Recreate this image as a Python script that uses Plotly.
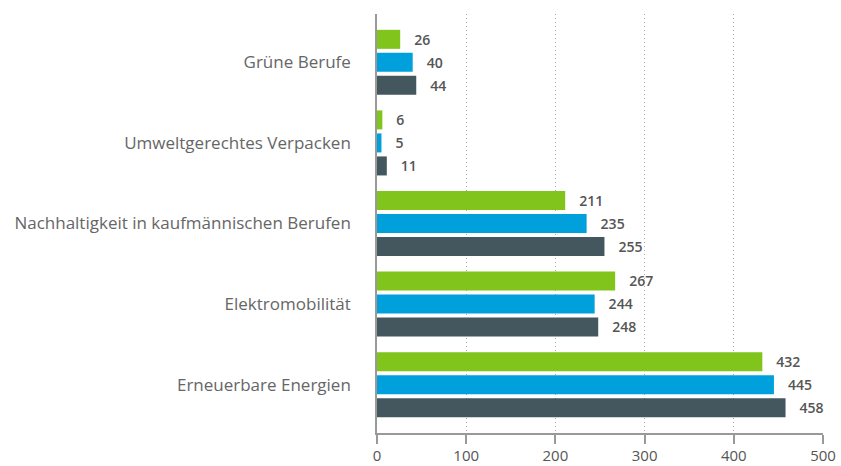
import plotly.graph_objects as go

categories = ["Grüne Berufe", "Umweltgerechtes Verpacken",
              "Nachhaltigkeit in kaufmännischen Berufen", "Elektromobilität",
              "Erneuerbare Energien"]
series_names = ["Reihe 1", "Reihe 2", "Reihe 3"]
series_1 = [26, 6, 211, 267, 432]
series_2 = [40, 5, 235, 244, 445]
series_3 = [44, 11, 255, 248, 458]
colors = ["#80c41c", "#00a0dc", "#44575f"]
x_ticks = [0, 100, 200, 300, 400, 500]

FONT = "Open Sans"
fig = go.Figure()
for name, vals, col in zip(series_names, [series_1, series_2, series_3], colors):
    fig.add_trace(go.Bar(
        y=categories, x=vals, name=name, orientation="h",
        marker=dict(color=col, line=dict(width=0)),
        text=[f"\u00a0\u00a0\u00a0{v}" for v in vals],
        textposition="outside", cliponaxis=False,
        textfont=dict(family=FONT, size=17, color="#555555", weight=600),
        hoverinfo="x+y",
    ))

fig.update_layout(
    barmode="group", bargap=0.143, bargroupgap=0.174,
    width=841, height=466,
    margin=dict(l=377, r=18, t=14, b=33),
    plot_bgcolor="white", paper_bgcolor="white",
    showlegend=False,
    font=dict(family=FONT, color="#666666"),
    xaxis=dict(range=[0, 500], tickvals=x_ticks, ticktext=[str(t) for t in x_ticks],
               showgrid=True, gridcolor="#aaaaaa", griddash="1px,3px", gridwidth=1,
               showline=True, linecolor="#999999", linewidth=1.5,
               ticks="outside", ticklen=9, tickcolor="#999999", tickwidth=1.5,
               ticklabelstandoff=-1,
               tickfont=dict(family=FONT, size=15, color="#555555"),
               zeroline=False, fixedrange=True, automargin=False),
    yaxis=dict(type="category", range=[4.6, -0.6],
               showline=True, linecolor="#999999", linewidth=1.5,
               ticks="", ticklabelstandoff=21,
               tickfont=dict(family=FONT, size=17, color="#666666"),
               showgrid=False, fixedrange=True, automargin=False),
)

fig.write_html("out.html", config={"displayModeBar": False},
               post_script="document.body.style.margin='0';document.body.style.overflow='hidden';")
